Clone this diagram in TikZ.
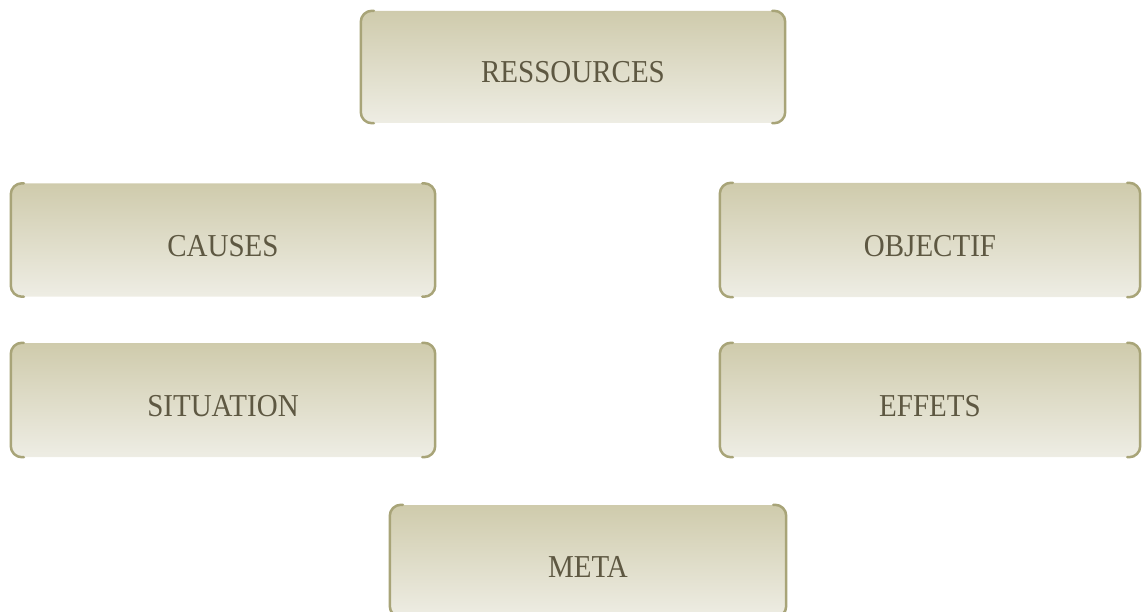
\documentclass[tikz,border=0pt]{standalone}
\usepackage{fontspec}
\setmainfont{Liberation Serif}
\definecolor{topc}{RGB}{207,203,172}
\definecolor{botc}{RGB}{238,237,228}
\definecolor{brdc}{RGB}{168,164,120}
\definecolor{txtc}{RGB}{94,88,66}
\tikzset{
  boxnode/.style={shade, top color=topc, bottom color=botc, rounded corners=11pt,
    inner sep=0pt, text=txtc, font=\fontsize{29}{32}\selectfont,
    text height=32pt, text depth=0pt},
  brd/.style={draw=brdc, line width=2.5pt, rounded corners=11pt, line cap=round}
}
\newcommand{\sidebrackets}[1]{%
  \draw[brd] ([xshift=13pt]#1.north west) -- (#1.north west) -- (#1.south west) -- ([xshift=13pt]#1.south west);
  \draw[brd] ([xshift=-13pt]#1.north east) -- (#1.north east) -- (#1.south east) -- ([xshift=-13pt]#1.south east);
}
\begin{document}
\begin{tikzpicture}[x=1pt,y=-1pt]
\useasboundingbox (0,0) rectangle (1142,612);
\node[boxnode, minimum width=424pt, minimum height=112pt] (res) at (573,67) {\scalebox{1}[1.1]{RESSOURCES}};
\node[boxnode, minimum width=424pt, minimum height=113pt] (cau) at (223,240) {\scalebox{1}[1.1]{CAUSES}};
\node[boxnode, minimum width=420pt, minimum height=114pt] (obj) at (930,240) {\scalebox{1}[1.1]{OBJECTIF}};
\node[boxnode, minimum width=424pt, minimum height=114pt] (sit) at (223,400) {\scalebox{1}[1.1]{SITUATION}};
\node[boxnode, minimum width=420pt, minimum height=114pt] (eff) at (930,400) {\scalebox{1}[1.1]{EFFETS}};
\node[boxnode, minimum width=396pt, minimum height=112pt] (met) at (588,561) {\scalebox{1}[1.1]{META}};
\sidebrackets{res}
\sidebrackets{cau}
\sidebrackets{obj}
\sidebrackets{sit}
\sidebrackets{eff}
\sidebrackets{met}
\end{tikzpicture}
\end{document}
